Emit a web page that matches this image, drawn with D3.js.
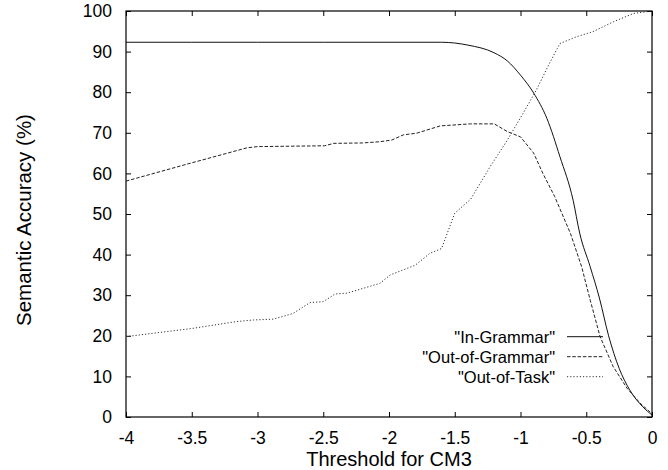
<!DOCTYPE html>
<html>
<head>
<meta charset="utf-8">
<script src="https://cdn.jsdelivr.net/npm/d3@7"></script>
<style>
  body { margin: 0; background: #fff; }
  svg { font-family: "Liberation Sans", Arial, Helvetica, sans-serif; }
  .tick text { font-size: 17.5px; fill: #000; }
  .tick line { stroke: #000; }
</style>
</head>
<body>
<svg id="chart" width="668" height="470"></svg>
<script>
// In-Grammar (solid)
const inGrammarX = [-4, -3.5, -3, -2.5, -2, -1.6, -1.4, -1.2, -1.1, -1.0, -0.9, -0.8, -0.7, -0.6, -0.55, -0.47, -0.4, -0.33, -0.25, -0.17, -0.07, 0];
const inGrammarY = [92.3, 92.3, 92.3, 92.3, 92.3, 92.3, 91.6, 89.7, 87.7, 84.2, 79.8, 73.6, 64.1, 53.4, 45.3, 37.0, 29.3, 20.0, 12.0, 6.7, 2.5, 0.5];

// Out-of-Grammar (dashed)
const outGrammarX = [-4, -3.5, -3.08, -3.0, -2.49, -2.42, -2.2, -2.07, -1.98, -1.89, -1.79, -1.61, -1.38, -1.2, -1.1, -1.0, -0.9, -0.83, -0.74, -0.62, -0.535, -0.47, -0.395, -0.295, -0.19, -0.09, 0];
const outGrammarY = [58.1, 62.6, 66.3, 66.6, 66.8, 67.4, 67.5, 67.8, 68.2, 69.5, 69.9, 71.7, 72.2, 72.2, 70.3, 69.0, 65.0, 60.0, 54.3, 45.2, 37.0, 28.8, 19.8, 12.4, 7.1, 3.4, 0.8];

// Out-of-Task (dotted)
const outTaskX = [-4, -3.5, -3.16, -3.03, -2.88, -2.73, -2.6, -2.5, -2.41, -2.32, -2.07, -1.99, -1.8, -1.69, -1.6, -1.5, -1.38, -1.23, -1.1, -0.98, -0.88, -0.78, -0.7, -0.57, -0.45, -0.29, -0.14, 0];
const outTaskY = [19.8, 21.8, 23.5, 23.9, 24.1, 25.5, 28.2, 28.4, 30.3, 30.5, 32.9, 35.0, 37.4, 40.3, 41.5, 50.2, 53.6, 61.7, 68.2, 74.8, 80.5, 87.1, 92.0, 93.7, 94.9, 97.4, 99.4, 100];

const seriesNames = ['"In-Grammar"', '"Out-of-Grammar"', '"Out-of-Task"'];
const xTicks = [-4, -3.5, -3, -2.5, -2, -1.5, -1, -0.5, 0];
const yTicks = [0, 10, 20, 30, 40, 50, 60, 70, 80, 90, 100];

const margin = {top: 11, right: 16, bottom: 53, left: 126},
      width = 668 - margin.left - margin.right,
      height = 470 - margin.top - margin.bottom;

const svg = d3.select("#chart")
    .append("g")
    .attr("transform", `translate(${margin.left},${margin.top})`);

const x = d3.scaleLinear().domain([-4, 0]).range([0, width]);
const y = d3.scaleLinear().domain([0, 100]).range([height, 0]);

// plain hyphen minus like the original
const fmt = d => String(d);

// axes with inward ticks, mirrored on top and right
svg.append("g")
    .attr("transform", `translate(0,${height})`)
    .call(d3.axisBottom(x).tickValues(xTicks).tickSize(-5).tickSizeOuter(0).tickPadding(15).tickFormat(fmt))
    .call(g => g.select(".domain").remove());

svg.append("g")
    .call(d3.axisLeft(y).tickValues(yTicks).tickSize(-5).tickSizeOuter(0).tickPadding(14).tickFormat(fmt))
    .call(g => g.select(".domain").remove());

svg.append("g")
    .call(d3.axisTop(x).tickValues(xTicks).tickSize(-5).tickSizeOuter(0).tickFormat(""))
    .call(g => g.select(".domain").remove());

svg.append("g")
    .attr("transform", `translate(${width},0)`)
    .call(d3.axisRight(y).tickValues(yTicks).tickSize(-5).tickSizeOuter(0).tickFormat(""))
    .call(g => g.select(".domain").remove());

// frame
svg.append("rect")
    .attr("width", width)
    .attr("height", height)
    .attr("fill", "none")
    .attr("stroke", "#000")
    .attr("stroke-width", 1.2);

// axis labels
svg.append("text")
    .attr("x", width / 2)
    .attr("y", height + 49)
    .attr("text-anchor", "middle")
    .style("font-size", "20px")
    .text("Threshold for CM3");

svg.append("text")
    .attr("transform", "rotate(-90)")
    .attr("x", -(220 - margin.top))
    .attr("y", 31 - margin.left)
    .attr("text-anchor", "middle")
    .style("font-size", "20.5px")
    .text("Semantic Accuracy (%)");

// lines
const series = [
    {xs: inGrammarX, ys: inGrammarY, dash: null, color: "#111", curve: d3.curveMonotoneX},
    {xs: outGrammarX, ys: outGrammarY, dash: "3.5,1.8", color: "#222", curve: d3.curveLinear},
    {xs: outTaskX, ys: outTaskY, dash: "1.2,2", color: "#333", curve: d3.curveLinear}
];

series.forEach(s => {
    const line = d3.line()
        .x(d => x(d[0]))
        .y(d => y(d[1]))
        .curve(s.curve);
    svg.append("path")
        .datum(d3.zip(s.xs, s.ys))
        .attr("fill", "none")
        .attr("stroke", s.color)
        .attr("stroke-width", 1)
        .attr("stroke-dasharray", s.dash)
        .attr("d", line);
});

// legend
const legend = svg.append("g");
series.forEach((s, i) => {
    const ly = 325.7 + i * 20;
    legend.append("text")
        .attr("x", 555 - margin.left)
        .attr("y", ly + 6)
        .attr("text-anchor", "end")
        .style("font-size", "16.5px")
        .text(seriesNames[i]);
    legend.append("line")
        .attr("x1", 567 - margin.left)
        .attr("x2", 603 - margin.left)
        .attr("y1", ly)
        .attr("y2", ly)
        .attr("stroke", s.color)
        .attr("stroke-width", 1)
        .attr("stroke-dasharray", s.dash);
});
</script>
</body>
</html>
